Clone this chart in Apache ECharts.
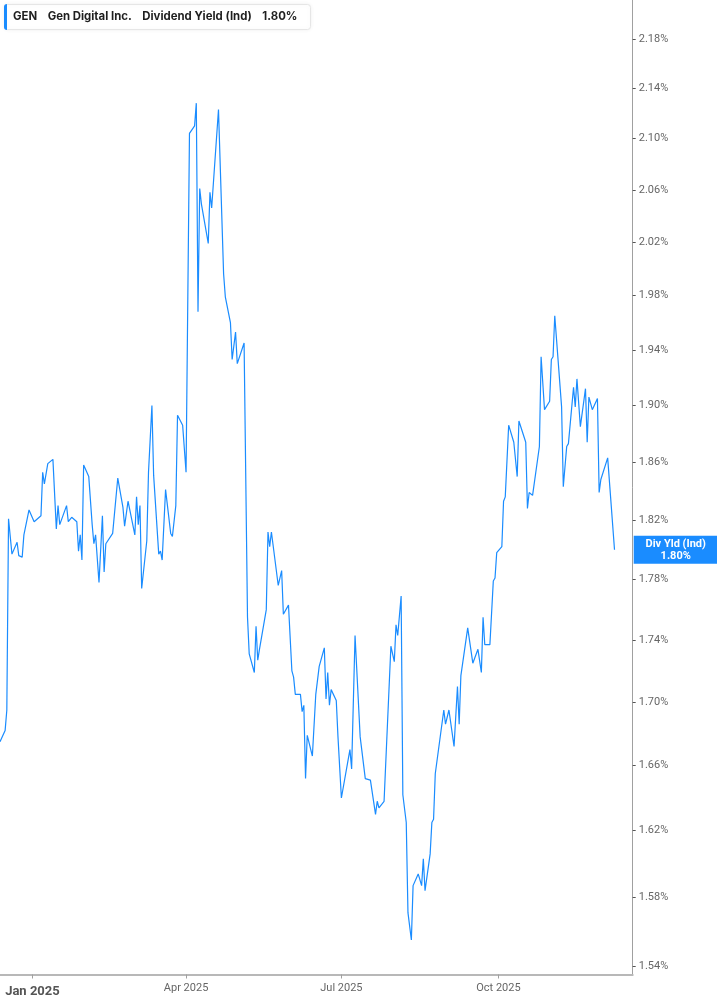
<!DOCTYPE html>
<html>
<head>
<meta charset="utf-8">
<title>GEN Dividend Yield</title>
<script src="https://cdn.jsdelivr.net/npm/echarts@6/dist/echarts.min.js"></script>
<style>
  html, body { margin: 0; padding: 0; background: #fff; }
  #chart { width: 717px; height: 1005px; }
</style>
</head>
<body>
<div id="chart"></div>
<script>
// trading dates
const dates = [
  '2024-12-13','2024-12-16','2024-12-17','2024-12-18','2024-12-20','2024-12-23','2024-12-24','2024-12-26','2024-12-27','2024-12-30',
  '2025-01-02','2025-01-06','2025-01-07','2025-01-08','2025-01-10','2025-01-13','2025-01-15','2025-01-16','2025-01-17','2025-01-21','2025-01-22','2025-01-24','2025-01-27','2025-01-28','2025-01-29','2025-01-30','2025-01-31',
  '2025-02-03','2025-02-05','2025-02-06','2025-02-07','2025-02-09','2025-02-11','2025-02-12','2025-02-13','2025-02-17','2025-02-20','2025-02-23','2025-02-24','2025-02-26',
  '2025-03-02','2025-03-03','2025-03-04','2025-03-05','2025-03-06','2025-03-09','2025-03-10','2025-03-12','2025-03-13','2025-03-16','2025-03-17','2025-03-18','2025-03-20','2025-03-23','2025-03-24','2025-03-26','2025-03-27','2025-03-30',
  '2025-04-01','2025-04-03','2025-04-06','2025-04-07','2025-04-08','2025-04-09','2025-04-10','2025-04-14','2025-04-15','2025-04-16','2025-04-20','2025-04-23','2025-04-24','2025-04-27','2025-04-28','2025-04-30',
  '2025-05-01','2025-05-05','2025-05-07','2025-05-08','2025-05-11','2025-05-12','2025-05-13','2025-05-14','2025-05-18','2025-05-19','2025-05-20','2025-05-21','2025-05-25','2025-05-27','2025-05-28','2025-05-31',
  '2025-06-02','2025-06-03','2025-06-04','2025-06-07','2025-06-08','2025-06-09','2025-06-10','2025-06-11','2025-06-14','2025-06-16','2025-06-18','2025-06-21','2025-06-22','2025-06-23','2025-06-24','2025-06-25','2025-06-28','2025-06-29','2025-06-30',
  '2025-07-01','2025-07-06','2025-07-07','2025-07-09','2025-07-12','2025-07-15','2025-07-18','2025-07-21','2025-07-22','2025-07-23','2025-07-26','2025-07-30',
  '2025-08-01','2025-08-02','2025-08-03','2025-08-05','2025-08-06','2025-08-08','2025-08-09','2025-08-11','2025-08-12','2025-08-15','2025-08-17','2025-08-18','2025-08-19','2025-08-22','2025-08-23','2025-08-24','2025-08-25','2025-08-26','2025-08-30','2025-08-31',
  '2025-09-02','2025-09-05','2025-09-07','2025-09-08','2025-09-09','2025-09-13','2025-09-16','2025-09-19','2025-09-21','2025-09-22','2025-09-23','2025-09-26','2025-09-28','2025-09-29','2025-09-30',
  '2025-10-03','2025-10-04','2025-10-05','2025-10-07','2025-10-10','2025-10-12','2025-10-13','2025-10-17','2025-10-18','2025-10-19','2025-10-21','2025-10-25','2025-10-26','2025-10-28','2025-10-31',
  '2025-11-01','2025-11-02','2025-11-03','2025-11-07','2025-11-08','2025-11-10','2025-11-11','2025-11-14','2025-11-15','2025-11-16','2025-11-17','2025-11-18','2025-11-21','2025-11-22','2025-11-23','2025-11-25','2025-11-28','2025-11-29','2025-11-30',
  '2025-12-01','2025-12-04','2025-12-08'
];

// dividend yield (ind), in %
const yieldPct = [
  1.675,1.682,1.695,1.821,1.797,1.805,1.796,1.795,1.810,1.827,
  1.819,1.823,1.853,1.845,1.859,1.862,1.814,1.830,1.817,1.830,1.819,1.822,1.819,1.799,1.810,1.793,1.858,
  1.850,1.817,1.804,1.810,1.778,1.823,1.785,1.804,1.811,1.849,1.829,1.816,1.833,
  1.810,1.836,1.817,1.830,1.774,1.806,1.853,1.900,1.851,1.797,1.799,1.793,1.841,1.811,1.809,1.830,1.893,1.886,
  1.853,2.104,2.110,2.128,1.968,2.061,2.049,2.019,2.058,2.046,2.123,1.996,1.979,1.960,1.933,1.953,
  1.930,1.945,1.755,1.731,1.719,1.749,1.727,1.734,1.760,1.812,1.802,1.812,1.776,1.786,1.757,1.763,
  1.720,1.716,1.705,1.705,1.694,1.698,1.652,1.679,1.666,1.705,1.723,1.735,1.702,1.719,1.698,1.708,1.701,1.678,1.677,
  1.640,1.670,1.658,1.743,1.678,1.652,1.651,1.630,1.638,1.634,1.638,1.736,
  1.726,1.750,1.743,1.769,1.642,1.625,1.571,1.555,1.587,1.594,1.587,1.603,1.584,1.606,1.625,1.627,1.655,1.656,1.695,1.686,
  1.695,1.672,1.710,1.686,1.717,1.748,1.725,1.734,1.719,1.755,1.737,1.737,1.779,1.781,1.798,
  1.802,1.833,1.836,1.886,1.874,1.850,1.889,1.874,1.828,1.839,1.837,1.871,1.935,1.897,1.903,
  1.933,1.935,1.965,1.899,1.843,1.871,1.873,1.913,1.899,1.919,1.919,1.885,1.912,1.874,1.906,1.897,1.905,1.839,1.848,
  1.847,1.863,1.800
];

// y tick labels (log-spaced axis)
const yTicks = [1.54, 1.58, 1.62, 1.66, 1.70, 1.74, 1.78, 1.82, 1.86, 1.90, 1.94, 1.98, 2.02, 2.06, 2.10, 2.14, 2.18];
// x tick labels
const xTicks = ['2025-01-01', '2025-04-01', '2025-07-01', '2025-10-01'];
const monthNames = ['Jan', 'Feb', 'Mar', 'Apr', 'May', 'Jun', 'Jul', 'Aug', 'Sep', 'Oct', 'Nov', 'Dec'];

const BLUE = '#1a8cff';

function utc(s) {
  const p = s.split('-').map(Number);
  return Date.UTC(p[0], p[1] - 1, p[2]);
}

const lastVal = yieldPct[yieldPct.length - 1];
// values go on a log scale: plot ln(v) on a linear value axis
const seriesData = dates.map((d, i) => [utc(d), Math.log(yieldPct[i])]);

const chart = echarts.init(document.getElementById('chart'));

chart.setOption({
  animation: false,
  backgroundColor: '#fff',
  title: {
    left: 4,
    top: 4,
    padding: [0, 13, 0, 0],
    backgroundColor: '#fff',
    borderColor: '#e6e6e6',
    borderWidth: 1,
    borderRadius: 3,
    shadowBlur: 4,
    shadowColor: 'rgba(0,0,0,0.06)',
    text: '{bar|}{gap0|}{b|GEN}{gap|}{b|Gen Digital Inc.}{gap|}{n|Dividend Yield (Ind)}{gap|}{b|' + lastVal.toFixed(2) + '%}',
    textStyle: {
      rich: {
        bar: { width: 3, height: 26, backgroundColor: BLUE, borderRadius: [3, 0, 0, 3] },
        gap0: { width: 6 },
        gap: { width: 10.5 },
        b: { fontFamily: 'Inter', fontSize: 11.4, fontWeight: 'bold', color: '#1f1f1f' },
        n: { fontFamily: 'Inter', fontSize: 11.4, color: '#1f1f1f' }
      }
    }
  },
  grid: { left: 0, right: 84.3, top: 0, bottom: 30.5 },
  xAxis: {
    // timestamps on a linear axis, so label positions can be set per quarter
    type: 'value',
    min: utc('2024-12-13'),
    max: utc('2025-01-01') + 351.66 * 864e5,
    splitLine: { show: false },
    axisLine: { lineStyle: { color: '#b8b8b8', width: 2 } },
    axisTick: {
      customValues: xTicks.map(utc),
      length: 4,
      lineStyle: { color: '#a0a0a0', width: 1 }
    },
    axisLabel: {
      customValues: xTicks.map(utc),
      margin: 8,
      fontFamily: 'Roboto',
      fontSize: 11,
      color: '#666',
      formatter: function (value) {
        const d = new Date(value);
        const m = d.getUTCMonth();
        const s = monthNames[m] + ' ' + d.getUTCFullYear();
        return m === 0 ? '{yr|' + s + '}' : s;
      },
      rich: {
        yr: { fontFamily: 'Roboto', fontSize: 13, fontWeight: 'bold', color: '#555', padding: [3, 0, 0, 0] }
      }
    }
  },
  yAxis: {
    type: 'value',
    position: 'right',
    min: Math.log(1.535),
    max: Math.log(2.2119),
    splitLine: { show: false },
    axisLine: { show: true, lineStyle: { color: '#a0a0a0', width: 1 } },
    axisTick: {
      show: true,
      customValues: yTicks.map(Math.log),
      length: 3,
      lineStyle: { color: '#555', width: 1 }
    },
    axisLabel: {
      customValues: yTicks.map(Math.log),
      margin: 6,
      fontFamily: 'Roboto',
      fontSize: 11,
      color: '#666',
      formatter: function (v) { return Math.exp(v).toFixed(2) + '%'; }
    }
  },
  series: [{
    name: 'Div Yld (Ind)',
    type: 'line',
    data: seriesData,
    showSymbol: false,
    symbol: 'none',
    lineStyle: { color: BLUE, width: 1.2 },
    markLine: {
      silent: true,
      symbol: 'none',
      lineStyle: { color: 'rgba(0,0,0,0)', width: 0 },
      data: [{ yAxis: Math.log(lastVal) }],
      label: {
        show: true,
        position: 'end',
        distance: 1,
        offset: [0, 6],
        backgroundColor: BLUE,
        padding: [2, 0, 2, 0],
        formatter: '{t|Div Yld (Ind)}\n{t|' + lastVal.toFixed(2) + '%}',
        rich: {
          t: { width: 84, align: 'center', color: '#fff', fontFamily: 'Roboto', fontSize: 11, fontWeight: 'bold', lineHeight: 12 }
        }
      }
    }
  }]
});
</script>
</body>
</html>
